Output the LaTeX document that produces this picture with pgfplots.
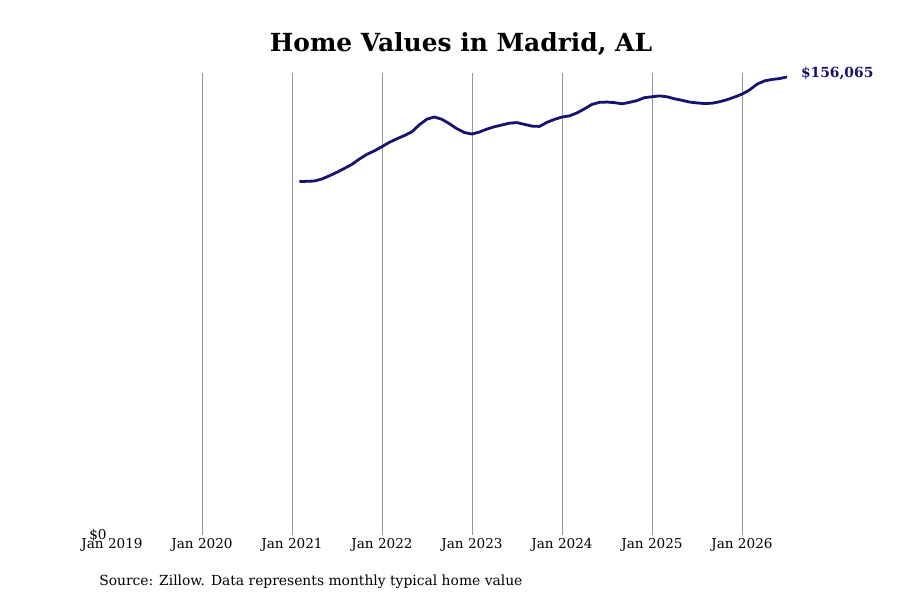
\documentclass[border=0pt]{standalone}
\usepackage{pgfplots}
\pgfplotsset{compat=1.18}
\usepackage{fontspec}
\setmainfont{DejaVu Serif}
\definecolor{linecol}{RGB}{22,18,110}
\definecolor{gridcol}{RGB}{150,150,150}
\begin{document}
\begin{tikzpicture}
\useasboundingbox (0,0) rectangle (675pt,450pt);
\node[font=\fontsize{18.7}{22}\selectfont\bfseries] at (345.75pt,417pt) {Home Values in Madrid, AL};
\node[font=\fontsize{10.4}{12}\selectfont, anchor=west, inner sep=0pt] at (74.25pt,13.5pt) {Source: Zillow. Data represents monthly typical home value};
\begin{axis}[
  at={(84pt,48.75pt)}, anchor=south west,
  scale only axis,
  width=506.25pt, height=346.5pt,
  xmin=2019, xmax=2026.5,
  ymin=0, ymax=157400,
  axis line style={draw=none},
  xtick={2020,2021,2022,2023,2024,2025,2026},
  xticklabels={Jan 2020,Jan 2021,Jan 2022,Jan 2023,Jan 2024,Jan 2025,Jan 2026},
  extra x ticks={2019}, extra x tick labels={Jan 2019},
  extra x tick style={grid=none},
  ytick={0}, yticklabels={\$0},
  scaled y ticks=false,
  xmajorgrids, ymajorgrids=false,
  major grid style={gridcol, line width=0.6pt},
  major tick length=0pt,
  tick style={draw=none},
  tick label style={font=\fontsize{10.2}{12}\selectfont},
  xticklabel style={yshift=1pt},
  yticklabel style={xshift=-0.5pt},
  /pgf/number format/assume math mode=true,
  clip=false,
]
\addplot[linecol, line width=2.1pt, line join=round] coordinates {
(2021.083,120400) (2021.167,120500) (2021.25,120600) (2021.333,121300)
(2021.417,122400) (2021.5,123600) (2021.583,124900) (2021.667,126300)
(2021.75,128100) (2021.833,129700) (2021.917,130900) (2022.0,132300)
(2022.083,133800) (2022.167,135000) (2022.25,136100) (2022.333,137400)
(2022.417,139800) (2022.5,141700) (2022.583,142400) (2022.667,141600)
(2022.75,140100) (2022.833,138400) (2022.917,137100) (2023.0,136600)
(2023.083,137300) (2023.167,138300) (2023.25,139100) (2023.333,139700)
(2023.417,140300) (2023.5,140500) (2023.583,139900) (2023.667,139300)
(2023.75,139200) (2023.833,140600) (2023.917,141600) (2024.0,142400)
(2024.083,142800) (2024.167,143800) (2024.25,145200) (2024.333,146700)
(2024.417,147400) (2024.5,147500) (2024.583,147300) (2024.667,146900)
(2024.75,147400) (2024.833,148000) (2024.917,149000) (2025.0,149300)
(2025.083,149600) (2025.167,149300) (2025.25,148600) (2025.333,148100)
(2025.417,147500) (2025.5,147200) (2025.583,147000) (2025.667,147100)
(2025.75,147600) (2025.833,148300) (2025.917,149200) (2026.0,150200)
(2026.083,151600) (2026.167,153600) (2026.25,154700) (2026.333,155200)
(2026.417,155500) (2026.5,156065)
};
\node[anchor=west, text=linecol, font=\fontsize{10.4}{12}\selectfont\bfseries, xshift=7pt, yshift=3pt] at (axis cs:2026.5,156065) {\$156,065};
\end{axis}
\end{tikzpicture}
\end{document}
